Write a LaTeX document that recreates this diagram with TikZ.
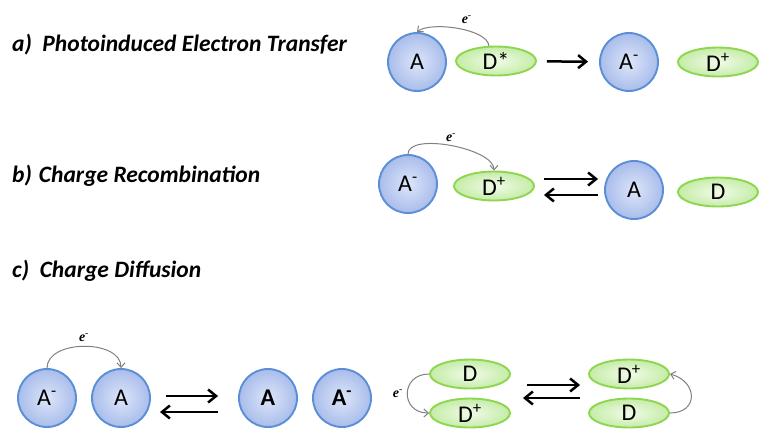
\documentclass[tikz,border=0pt]{standalone}
\usepackage{fontspec}
\setmainfont{Carlito}
\newfontfamily\elecfont{Liberation Serif}
\usepackage{xcolor}
\definecolor{accBlue}{HTML}{5A8FD6}
\definecolor{accFillIn}{HTML}{DDE5F9}
\definecolor{accFillOut}{HTML}{A9BDEB}
\definecolor{donGreen}{HTML}{8ED64E}
\definecolor{donFillIn}{HTML}{F1FBE9}
\definecolor{donFillOut}{HTML}{C5ECA8}
\definecolor{hopGray}{HTML}{808080}
\usetikzlibrary{shapes.geometric, arrows.meta}
\newcommand{\Am}{A\textsuperscript{-}}
\newcommand{\Dp}{D\textsuperscript{+}}
\newcommand{\elec}{{\elecfont\bfseries\itshape e}\textsuperscript{\elecfont -}}

\begin{document}
\begin{tikzpicture}[
    x=1pt, y=1pt,
    heading/.style={
        anchor=west, inner sep=0pt,
        font=\fontsize{23.5}{26}\selectfont\bfseries\itshape
    },
    % acceptor spheres and donor ellipses
    acc/.style={
        circle, draw=accBlue, line width=1.9pt,
        inner color=accFillIn, outer color=accFillOut,
        minimum size=58pt, inner sep=0pt,
        font=\fontsize{24}{24}\selectfont
    },
    don/.style={
        ellipse, draw=donGreen, line width=1.9pt,
        inner color=donFillIn, outer color=donFillOut,
        minimum width=80pt, minimum height=29pt, inner sep=0pt,
        font=\fontsize{24}{24}\selectfont
    },
    react/.style={-{Straight Barb[length=8pt, width=13pt]}, line width=2.5pt},
    hop/.style={-{Straight Barb[length=4.5pt, width=8pt]}, draw=hopGray, line width=1pt},
    elbl/.style={font=\fontsize{14}{14}\selectfont, inner sep=1pt},
]
\useasboundingbox (0,0) rectangle (759,-432);

%% =================================================================
%% a) Photoinduced electron transfer
%% =================================================================
\node[heading] (ha) at (12,-45) {a)\hspace{0.45em}Photoinduced Electron Transfer};

\node[acc] (ra_a)  at (417,-62) {A};
\node[don] (ra_ds) at (496,-61) {D*};
\node[acc] (ra_am) at (629,-62) {\Am};
\node[don] (ra_dp) at (718,-62) {\Dp};

\draw[hop] (ra_ds.115) to[out=95, in=40, looseness=0.6]
    node[elbl, above=5pt, pos=0.4] {\elec} (ra_a.north);
\draw[react, shorten <=10pt, shorten >=11pt] (ra_ds) -- (ra_am);

%% =================================================================
%% b) Charge recombination
%% =================================================================
\node[heading] (hb) at (12,-176) {b)\hspace{0.3em}Charge Recombination};

\node[acc] (rb_am) at (408,-184) {\Am};
\node[don] (rb_dp) at (494,-186) {\Dp};
\node[acc] (rb_a)  at (634,-190) {A};
\node[don] (rb_d)  at (718,-192) {D};

\draw[hop] (rb_am.north) to[out=90, in=90, looseness=0.65]
    node[elbl, above=2pt] {\elec} (rb_dp.north);
% forward / back pair
\draw[react, shorten <=9pt, shorten >=6pt] (rb_dp.east |- 0,-179) -- (rb_a.west |- 0,-179);
\draw[react, shorten <=6pt, shorten >=9pt] (rb_a.west |- 0,-195) -- (rb_dp.east |- 0,-195);

%% =================================================================
%% c) Charge diffusion
%% =================================================================
\node[heading] (hc) at (12,-271) {c)\hspace{0.45em}Charge Diffusion};

% acceptor hopping
\node[acc] (lc_am) at (47,-398)  {\Am};
\node[acc] (lc_a)  at (121,-398) {A};
\node[acc] (rc_a)  at (268,-398) {\bfseries A};
\node[acc] (rc_am) at (342,-398) {\bfseries\Am};

\draw[hop] (lc_am.north) to[out=90, in=90]
    node[elbl, above=3pt] {\elec} (lc_a.north);
\draw[react, shorten <=15pt, shorten >=20pt] (lc_a.east |- 0,-396) -- (rc_a.west |- 0,-396);
\draw[react, shorten <=20pt, shorten >=9pt] (rc_a.west |- 0,-412) -- (lc_a.east |- 0,-412);

% donor hopping
\node[don] (lc_dt) at (470,-374) {D};
\node[don] (lc_db) at (470,-413) {\Dp};
\node[don] (rc_dt) at (629,-374) {\Dp};
\node[don] (rc_db) at (629,-413) {D};

\draw[hop] (lc_dt.west) to[out=180, in=180, looseness=1.9]
    node[elbl, left=3pt] {\elec} (lc_db.west);
\draw[hop] (rc_db.east) to[out=0, in=-15, looseness=1.9] (rc_dt.east);
\draw[react, shorten <=16pt, shorten >=8pt] (lc_db.east |- 0,-385) -- (rc_dt.west |- 0,-385);
\draw[react, shorten <=8pt, shorten >=12pt] (rc_dt.west |- 0,-398) -- (lc_db.east |- 0,-398);

\end{tikzpicture}
\end{document}
